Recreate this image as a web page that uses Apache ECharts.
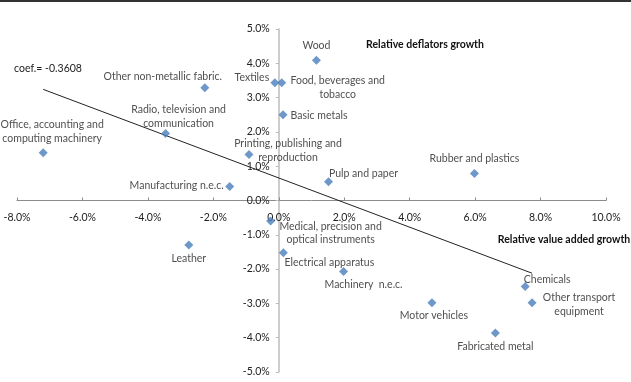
<!DOCTYPE html>
<html lang="en">
<head>
    <meta charset="UTF-8">
    <title>Relative deflators growth vs relative value added growth</title>
    <script src="https://cdn.jsdelivr.net/npm/echarts@6/dist/echarts.min.js"></script>
    <style>
        html, body { margin: 0; padding: 0; background: #fff; }
        #main { width: 631px; height: 382px; }
    </style>
</head>
<body>
    <div id="main"></div>
    <script type="text/javascript">
        // sectors, relative value added growth (x, %) and relative deflators growth (y, %)
        var sectors = [
            'Office, accounting and\ncomputing machinery',
            'Other non-metallic fabric.',
            'Radio, television and\ncommunication',
            'Printing, publishing and\nreproduction',
            'Manufacturing n.e.c.',
            'Textiles',
            'Food, beverages and\ntobacco',
            'Basic metals',
            'Wood',
            'Pulp and paper',
            'Rubber and plastics',
            'Medical, precision and\noptical instruments',
            'Leather',
            'Electrical apparatus',
            'Machinery  n.e.c.',
            'Motor vehicles',
            'Chemicals',
            'Other transport\nequipment',
            'Fabricated metal'
        ];
        var valueAddedGrowth = [-7.20, -2.26, -3.46, -0.91, -1.50, -0.12, 0.09, 0.13, 1.15, 1.52, 5.98, -0.25, -2.75, 0.14, 1.98, 4.68, 7.53, 7.74, 6.62];
        var deflatorGrowth = [1.39, 3.29, 1.95, 1.34, 0.41, 3.43, 3.43, 2.50, 4.09, 0.55, 0.79, -0.60, -1.30, -1.52, -2.07, -2.98, -2.51, -2.98, -3.86];

        // fitted line end points (coef. = -0.3608)
        var trendX = [-7.20, 7.74];
        var trendY = [3.24, -2.12];

        // where each label sits relative to its point (px)
        var labelOffset = [
            [9, -21], [-42, -11], [13, -17], [39, -4], [-53, -1],
            [-23, -5], [56, 5], [36, 1], [0, -15], [35, -8],
            [0, -15], [60, 12], [0, 14], [46, 10], [20, 13],
            [2, 13], [22, -7], [47, 2], [0, 14]
        ];

        var font = 'Lato, "Liberation Sans", sans-serif';
        var textColor = '#222';

        // plot box; axes cross at 0, so shift them into the middle with offset
        var W = 631, H = 382;
        var gridL = 17, gridR = 25, gridT = 29, gridB = 10;
        var xMin = -8, xMax = 10, yMin = -5, yMax = 5;
        var plotW = W - gridL - gridR, plotH = H - gridT - gridB;
        var xAxisShift = plotH * (0 - yMin) / (yMax - yMin);
        var yAxisShift = plotW * (0 - xMin) / (xMax - xMin);

        var myChart = echarts.init(document.getElementById('main'));

        var points = sectors.map(function (name, i) {
            return {
                name: name,
                value: [valueAddedGrowth[i], deflatorGrowth[i]],
                label: { offset: labelOffset[i] }
            };
        });

        var trend = trendX.map(function (x, i) {
            return [x, trendY[i]];
        });

        function pct(v) { return v.toFixed(1) + '%'; }

        myChart.setOption({
            animation: false,
            grid: { left: gridL, right: gridR, top: gridT, bottom: gridB, outerBoundsMode: 'none', containLabel: false },
            xAxis: {
                type: 'value',
                min: xMin, max: xMax, interval: 2,
                position: 'bottom',
                offset: -xAxisShift,
                axisLine: { onZero: false, lineStyle: { color: '#8c8c8c', width: 1 } },
                axisTick: { show: true, inside: true, length: 3, lineStyle: { color: '#8c8c8c' } },
                splitLine: { show: false },
                axisLabel: {
                    margin: 12,
                    color: textColor, fontSize: 10.5, fontFamily: font,
                    formatter: pct
                }
            },
            yAxis: {
                type: 'value',
                min: yMin, max: yMax, interval: 1,
                position: 'left',
                offset: -yAxisShift,
                axisLine: { onZero: false, lineStyle: { color: '#bdbdbd', width: 1.5 } },
                axisTick: { show: true, length: 3, lineStyle: { color: '#bdbdbd' } },
                splitLine: { show: false },
                axisLabel: {
                    margin: 9,
                    color: textColor, fontSize: 10.5, fontFamily: font,
                    formatter: pct
                }
            },
            graphic: [
                { type: 'rect', shape: { x: 0, y: 0, width: W, height: 2 }, style: { fill: '#333' } },
                { type: 'text', x: 48, y: 69, style: { text: 'coef.= -0.3608', fill: textColor, font: '10.5px ' + font, textAlign: 'center', textVerticalAlign: 'middle' } },
                { type: 'text', x: 425, y: 45, style: { text: 'Relative deflators growth', fill: '#111', font: 'bold 10.5px ' + font, textAlign: 'center', textVerticalAlign: 'middle' } },
                { type: 'text', x: 564, y: 240, style: { text: 'Relative value added growth', fill: '#111', font: 'bold 10.5px ' + font, textAlign: 'center', textVerticalAlign: 'middle' } }
            ],
            series: [
                {
                    type: 'line',
                    data: trend,
                    showSymbol: false,
                    silent: true,
                    lineStyle: { color: '#222', width: 1 },
                    z: 1
                },
                {
                    type: 'scatter',
                    data: points,
                    symbol: 'diamond',
                    symbolSize: 9,
                    itemStyle: { color: '#4a7ebb' },
                    z: 2,
                    label: {
                        show: true,
                        position: 'inside',
                        formatter: '{b}',
                        color: textColor,
                        fontSize: 10.5,
                        fontFamily: font,
                        lineHeight: 13.5,
                        align: 'center',
                        verticalAlign: 'middle',
                        textBorderWidth: 0
                    },
                    emphasis: { disabled: true }
                }
            ]
        });
    </script>
</body>
</html>
